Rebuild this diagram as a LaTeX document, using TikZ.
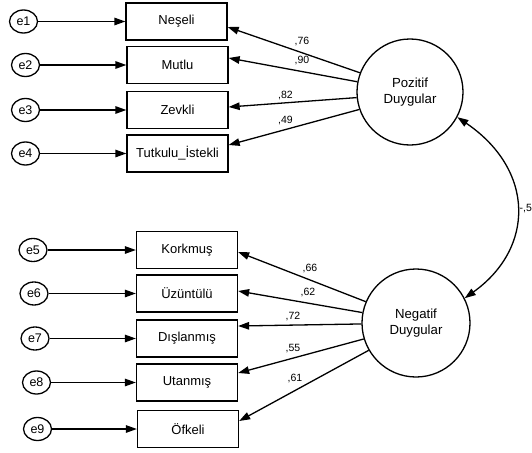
\documentclass[tikz,border=0pt]{standalone}
\usepackage{fontspec}
\setmainfont{Liberation Sans}
\usetikzlibrary{arrows.meta,calc,shapes.geometric}
\begin{document}
\begin{tikzpicture}[x=1pt,y=-1pt,
  obs/.style={draw,line width=1.3pt,minimum width=101pt,minimum height=37pt,inner sep=0pt,font=\fontsize{13}{15}\selectfont},
  err/.style={draw,ellipse,line width=1.3pt,minimum width=28pt,minimum height=23pt,inner sep=0pt,font=\fontsize{12.5}{14}\selectfont},
  lat/.style={draw,circle,line width=1.3pt,inner sep=0pt,align=center,font=\fontsize{13.2}{16.5}\selectfont},
  arr/.style={line width=1.3pt,-{Triangle[length=11pt,width=7.5pt]}},
  biarr/.style={line width=1.3pt,{Triangle[length=11pt,width=7.5pt]}-{Triangle[length=11pt,width=7.5pt]}},
  lab/.style={font=\fontsize{10.5}{12}\selectfont,inner sep=0pt}]
\useasboundingbox (0,0) rectangle (532,452);

% latent variables
\node[lat,minimum size=106pt] (P) at (410,92) {Pozitif\\Duygular};
\node[lat,minimum size=108pt] (N) at (416,323) {Negatif\\Duygular};

% observed variables
\node[obs] (o1) at (176.5,21.5) {Neşeli};
\node[obs] (o2) at (177.5,65) {Mutlu};
\node[obs] (o3) at (177.5,110) {Zevkli};
\node[obs] (o4) at (177.5,153.5) {Tutkulu\_İstekli};
\node[obs] (o5) at (187,250) {Korkmuş};
\node[obs] (o6) at (187,293.5) {Üzüntülü};
\node[obs] (o7) at (187,338.5) {Dışlanmış};
\node[obs] (o8) at (187,382.5) {Utanmış};
\node[obs] (o9) at (188,429) {Öfkeli};

% errors
\node[err] (e1) at (23.5,21.5) {e1};
\node[err] (e2) at (25.5,65) {e2};
\node[err] (e3) at (25.5,110) {e3};
\node[err] (e4) at (25.5,153.5) {e4};
\node[err] (e5) at (33,250) {e5};
\node[err] (e6) at (34,293.5) {e6};
\node[err] (e7) at (35,338.5) {e7};
\node[err] (e8) at (36.5,382.5) {e8};
\node[err] (e9) at (37.5,429) {e9};

\foreach \i in {1,...,9}{\draw[arr] (e\i.east) -- (o\i.west);}

% loadings
\draw[arr] (P.159) -- ([yshift=-5.5pt]o1.east);
\draw[arr] (P.169) -- ([yshift=7pt]o2.east);
\draw[arr] (P.186) -- ([yshift=3pt]o3.east);
\draw[arr] (P.199) -- ([yshift=8.5pt]o4.east);
\draw[arr] (N.157) -- ([yshift=-2pt]o5.east);
\draw[arr] (N.169) -- ([yshift=2.5pt]o6.east);
\draw[arr] (N.181) -- ([yshift=12.5pt]o7.east);
\draw[arr] (N.197) -- ([yshift=9.5pt]o8.east);
\draw[arr] (N.210) -- ([yshift=8pt]o9.east);

\node[lab] (l1) at (302,41.5) {,76};
\node[lab] (l2) at (302,60.5) {,90};
\node[lab] (l3) at (285.5,95.5) {,82};
\node[lab] (l4) at (285.5,121) {,49};
\node[lab] (l5) at (310,269) {,66};
\node[lab] (l6) at (308,293) {,62};
\node[lab] (l7) at (293,317) {,72};
\node[lab] (l8) at (293,349) {,55};
\node[lab] (l9) at (295,378) {,61};

% covariance
\draw[biarr] (P.-28) .. controls (535,170) and (535,248) .. (N.27);
\node[lab,anchor=west] (cv) at (519.5,208.5) {-,5};
\end{tikzpicture}
\end{document}
